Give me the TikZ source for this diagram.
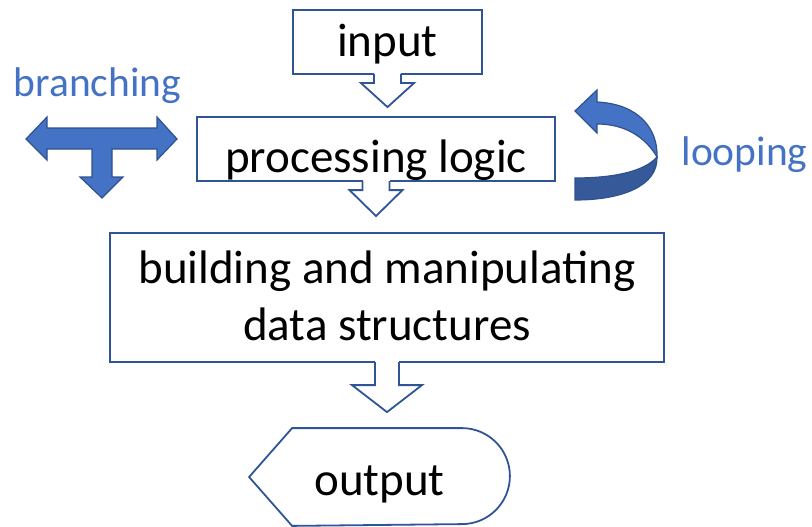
\documentclass[tikz,border=0pt]{standalone}
\usepackage{fontspec}
\setmainfont{Carlito}
\definecolor{boxblue}{RGB}{47, 85, 151}
\definecolor{accentblue}{RGB}{68, 114, 196}
\definecolor{accentedge}{RGB}{47, 82, 143}
\usetikzlibrary{calc}
\tikzset{
  % Plain stage box with a thin blue frame.
  stagebox/.style={
    rectangle, draw=boxblue, line width=1.8pt,
    fill=white, inner sep=0pt,
    align=center,
    font=\fontsize{47}{57}\selectfont,
    text=black,
  },
  % Side notes in the accent colour, placed by their baseline.
  sidenote/.style={
    font=\fontsize{41.5}{50}\selectfont,
    text=accentblue, anchor=base, inner sep=0pt,
  },
  % Solid block shapes (branch / loop).
  solidblock/.style={fill=accentblue, draw=accentedge, line width=1.2pt, line join=miter},
  % Outline of the hollow stage arrows.
  hollow/.style={draw=boxblue, line width=1.8pt, fill=white, line join=miter},
}

% Hollow down arrow hanging from the bottom of #1 towards #2.
% #3 gap above #2, #4 shaft half width, #5 head half width, #6 head length.
\newcommand{\hollowarrow}[6]{%
  \coordinate (tip) at ($(#1.south |- #2.north)+(0,-#3)$);
  \coordinate (neck) at ($(tip)+(0,-#6)$);
  \fill[white] ($(#1.south)+(-#4,-2)$) rectangle ($(neck)+(#4,0)$);
  \draw[hollow] ($(#1.south)+(-#4,-0.9)$) -- ($(neck)+(-#4,0)$)
    -- ($(neck)+(-#5,0)$) -- (tip) -- ($(neck)+(#5,0)$)
    -- ($(neck)+(#4,0)$) -- ($(#1.south)+(#4,-0.9)$);
}

\begin{document}
\begin{tikzpicture}[x=1pt, y=-1pt]
  \useasboundingbox (0,0) rectangle (812,527);

  % Stages, top to bottom.
  \node[stagebox, minimum width=189pt, minimum height=64pt,
        text height=30pt, text depth=0pt] (input) at (387.5,42) {input};
  \node[stagebox, minimum width=358pt, minimum height=64pt,
        text height=47pt, text depth=0pt] (logic) at (376,149) {processing logic};
  \node[stagebox, minimum width=554pt, minimum height=129pt,
        text height=85pt, text depth=0pt] (structs) at (387,297.5)
        {building and manipulating\\data structures};
  \node[stagebox, draw=none, fill=none, minimum width=259pt, minimum height=96pt,
        text height=36pt, text depth=0pt] (output) at (379.5,477) {output};

  % Display-shaped outline round the output.
  \draw[draw=boxblue, line width=1.8pt, line join=miter]
    (output.west) -- ($(output.north west)+(43,0)$)
    -- ($(output.north east)+(-48,0)$) arc[start angle=-90, end angle=90, radius=48]
    -- ($(output.south west)+(43,0)$) -- cycle;

  % Arrows between the stages.
  \hollowarrow{input}{logic}{9}{13.5}{26.5}{24}
  \hollowarrow{logic}{structs}{16}{13.5}{26.5}{26}
  \hollowarrow{structs}{output}{16}{12}{35}{27}

  % Branching: T-shaped three-way arrow.
  \filldraw[solidblock] (26,139) -- (47,117) -- (47,128) -- (157,128) -- (157,117)
    -- (177,139) -- (157,160) -- (157,149) -- (112,149) -- (112,177) -- (123,177)
    -- (102,198) -- (80,177) -- (92,177) -- (92,149) -- (47,149) -- (47,160) -- cycle;
  \node[sidenote] (branchlabel) at (97.5,97) {branching};

  % Looping: curled ribbon, back half darker.
  \filldraw[solidblock, fill=accentblue!78!black]
    (657,157) .. controls (658,186) and (622,200) .. (575,200)
    -- (575,178) .. controls (612,178) and (644,172) .. (657,157) -- cycle;
  \filldraw[solidblock]
    (597,102) .. controls (638,104) and (658,128) .. (657,157)
    .. controls (646,138) and (626,124) .. (597,124)
    -- (597,133) -- (575,111) -- (597,90) -- cycle;
  \node[sidenote] (looplabel) at (744.5,165) {looping};
\end{tikzpicture}
\end{document}
